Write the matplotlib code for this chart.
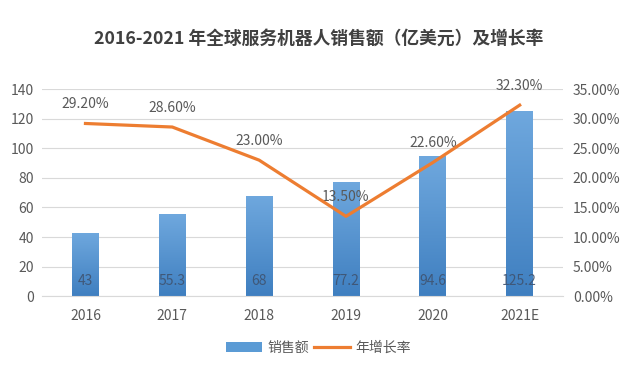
import matplotlib
matplotlib.use("Agg")
import matplotlib.pyplot as plt
import numpy as np

plt.rcParams['font.family'] = ['Noto Sans CJK SC', 'DejaVu Sans']

years = ["2016", "2017", "2018", "2019", "2020", "2021E"]
sales = [43, 55.3, 68, 77.2, 94.6, 125.2]
growth = [29.2, 28.6, 23.0, 13.5, 22.6, 32.3]
sales_labels = ["43", "55.3", "68", "77.2", "94.6", "125.2"]
growth_labels = ["29.20%", "28.60%", "23.00%", "13.50%", "22.60%", "32.30%"]

fig = plt.figure(figsize=(6.37, 3.67), dpi=100)
ax = fig.add_axes([0.066, 0.193, 0.818, 0.564])
ax2 = ax.twinx()

x = np.arange(len(years))
bars = ax.bar(x, sales, width=0.31, color="#5B9BD5", zorder=2, label="销售额")
grad = np.linspace(0, 1, 256).reshape(-1, 1)
cmap = matplotlib.colors.LinearSegmentedColormap.from_list('g', ["#3F7FC0", "#6FA8DE"])
for b in bars:
    x0, w, h = b.get_x(), b.get_width(), b.get_height()
    im = ax.imshow(grad, extent=[x0, x0 + w, 0, h], aspect='auto', origin='lower',
                   cmap=cmap, zorder=2.1)
    im.set_clip_path(b)
for xi, lab in zip(x, sales_labels):
    ax.text(xi, 10, lab, ha='center', va='center', fontsize=10, color="#3F5370", alpha=0.9, zorder=3)

ax.set_xlim(-0.5, len(years) - 0.5)
ax.set_ylim(0, 140)
ax.set_yticks(np.arange(0, 141, 20))
ax.grid(axis='y', color="#D9D9D9", linewidth=0.8, zorder=0)
ax.set_axisbelow(True)
ax.set_xticks(x)
ax.set_xticklabels(years)
for s in ax.spines.values():
    s.set_visible(False)
for s in ax2.spines.values():
    s.set_visible(False)
ax.spines['bottom'].set_visible(True)
ax.spines['bottom'].set_color("#D9D9D9")
ax.tick_params(axis='y', length=0, labelsize=10, colors="#595959", pad=6)
ax.tick_params(axis='x', length=0, labelsize=10, colors="#595959", pad=9)

line, = ax2.plot(x, growth, color="#ED7D31", linewidth=2.3, zorder=4, label="年增长率")
ax2.set_ylim(0, 35)
ax2.set_yticks(np.arange(0, 36, 5))
ax2.set_yticklabels([f"{v:.2f}%" for v in np.arange(0, 36, 5)])
ax2.tick_params(axis='y', length=0, labelsize=10, colors="#595959", pad=7)
for xi, g, lab in zip(x, growth, growth_labels):
    ax2.annotate(lab, (xi, g), xytext=(0, 9), textcoords='offset points',
                 ha='center', va='bottom', fontsize=10, color="#595959")

fig.text(0.5, 0.895, "2016-2021 年全球服务机器人销售额（亿美元）及增长率",
         ha='center', va='center', fontsize=12.8, fontweight='bold', color="#404040")

fig.legend(handles=[bars, line], labels=["销售额", "年增长率"], loc='center',
           bbox_to_anchor=(0.50, 0.053), ncol=2, frameon=False, fontsize=10,
           handlelength=2.6, handletextpad=0.4, columnspacing=0.3,
           labelcolor="#595959")

fig.savefig("out.png", dpi=100, facecolor='white')
